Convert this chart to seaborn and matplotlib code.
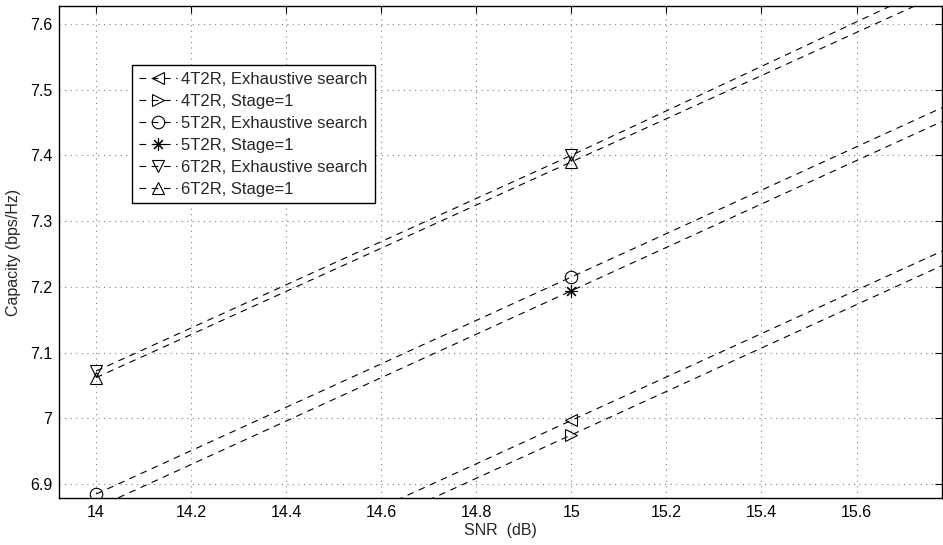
import matplotlib
matplotlib.use("Agg")
import matplotlib.pyplot as plt
import seaborn as sns
import pandas as pd

# SNR points (dB) and capacity values (bps/Hz) for each antenna setup
snr_db = [14, 15, 16]
cap_4t2r_exhaustive = [6.667, 6.997, 7.327]
cap_4t2r_stage1 = [6.645, 6.975, 7.305]
cap_5t2r_exhaustive = [6.885, 7.215, 7.545]
cap_5t2r_stage1 = [6.864, 7.194, 7.524]
cap_6t2r_exhaustive = [7.072, 7.400, 7.738]
cap_6t2r_stage1 = [7.062, 7.390, 7.718]

series_labels = [
    "4T2R, Exhaustive search",
    "4T2R, Stage=1",
    "5T2R, Exhaustive search",
    "5T2R, Stage=1",
    "6T2R, Exhaustive search",
    "6T2R, Stage=1",
]
series_values = [
    cap_4t2r_exhaustive,
    cap_4t2r_stage1,
    cap_5t2r_exhaustive,
    cap_5t2r_stage1,
    cap_6t2r_exhaustive,
    cap_6t2r_stage1,
]
# asterisk marker: eight thin arms, like a '+' over an 'x'
series_markers = ["<", ">", "o", (8, 2, 0), "v", "^"]

x_ticks = [14, 14.2, 14.4, 14.6, 14.8, 15, 15.2, 15.4, 15.6]
x_tick_labels = ["14", "14.2", "14.4", "14.6", "14.8", "15", "15.2", "15.4", "15.6"]
y_ticks = [6.9, 7.0, 7.1, 7.2, 7.3, 7.4, 7.5, 7.6]
y_tick_labels = ["6.9", "7", "7.1", "7.2", "7.3", "7.4", "7.5", "7.6"]

sns.set_style("white")
plt.rcParams["font.family"] = ["Liberation Sans", "DejaVu Sans"]

fig = plt.figure(figsize=(9.43, 5.45), dpi=100)
ax = fig.add_axes([0.0626, 0.0862, 0.9364, 0.9028])

for label, values, mk in zip(series_labels, series_values, series_markers):
    df = pd.DataFrame({"snr": snr_db, "cap": values})
    sns.lineplot(
        data=df, x="snr", y="cap", ax=ax,
        color="black", linewidth=0.8, linestyle=(0, (6, 5)),
        marker=mk, markersize=9,
        markerfacecolor="none", markeredgecolor="black",
        markeredgewidth=0.8, label=label, clip_on=True,
    )

ax.set_xlim(13.922, 15.78)
ax.set_ylim(6.879, 7.627)
ax.set_xticks(x_ticks)
ax.set_xticklabels(x_tick_labels)
ax.set_yticks(y_ticks)
ax.set_yticklabels(y_tick_labels)

ax.grid(True, linestyle=(0, (1, 4)), color="#808080", linewidth=0.8)
ax.tick_params(axis="both", direction="in", length=5, width=0.8,
               labelsize=11.5, colors="black", top=True, right=True,
               pad=5)
for spine in ax.spines.values():
    spine.set_visible(True)
    spine.set_color("black")
    spine.set_linewidth(1.0)

ax.set_xlabel("SNR  (dB)", fontsize=11.5, labelpad=2)
ax.set_ylabel("Capacity (bps/Hz)", fontsize=11.5, labelpad=6)

leg = ax.legend(
    loc="upper left", bbox_to_anchor=(0.083, 0.88),
    fontsize=12, frameon=True, fancybox=False, framealpha=1,
    edgecolor="black", handlelength=2.3, handletextpad=0.25,
    labelspacing=0.42, borderpad=0.4, borderaxespad=0,
)
leg.get_frame().set_linewidth(1.0)

fig.savefig("out.png", dpi=100)
